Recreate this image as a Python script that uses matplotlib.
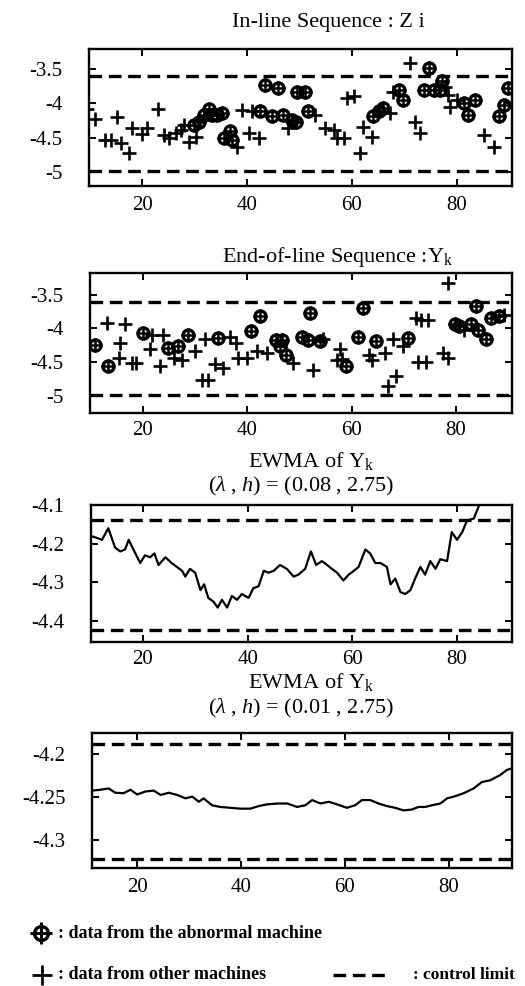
import matplotlib
matplotlib.use("Agg")
import matplotlib.pyplot as plt

plt.rcParams['font.family'] = ['Liberation Serif', 'DejaVu Serif']
plt.rcParams['mathtext.fontset'] = 'custom'
plt.rcParams['mathtext.rm'] = 'Liberation Serif'
plt.rcParams['mathtext.it'] = 'Liberation Serif:italic'

# ── In-line sequence Z_i ──
z_other_x = [9.6, 11, 13, 14, 15.2, 16, 17.5, 18, 20, 21, 23, 24.2, 25.2, 26.4, 27.4, 28, 29,
             30.2, 38.1, 39, 40.3, 41, 42.2, 47.9, 53, 54.9, 56.5, 57.1, 58.4, 59, 60.3, 61.6,
             62.2, 63.8, 67.3, 67.9, 71.1, 72.1, 73, 77.7, 78.4, 78.7, 80, 85.1, 87]
z_other_y = [-4.08, -4.23, -4.54, -4.54, -4.20, -4.58, -4.73, -4.36, -4.45, -4.36, -4.08, -4.46,
             -4.51, -4.44, -4.39, -4.32, -4.56, -4.49, -4.63, -4.10, -4.44, -4.12, -4.51, -4.36,
             -4.17, -4.36, -4.39, -4.51, -4.51, -3.92, -3.90, -4.73, -4.34, -4.49, -4.14, -3.83,
             -3.41, -4.27, -4.44, -3.77, -3.88, -4.05, -3.95, -4.46, -4.63]
z_abn_x = [29.9, 30.9, 31.8, 32.7, 33.4, 34.3, 35.3, 35.6, 36.8, 37.2, 42.5, 43.5, 44.7, 46,
           46.9, 48.5, 49.3, 49.5, 51.1, 51.7, 64.1, 65.1, 66, 68.9, 69.8, 73.7, 74.6, 75.6,
           76.8, 77.2, 81.3, 82.2, 83.5, 88, 88.9, 89.8]
z_abn_y = [-4.32, -4.27, -4.17, -4.09, -4.17, -4.17, -4.14, -4.51, -4.41, -4.53, -4.12, -3.73,
           -4.19, -3.78, -4.17, -4.24, -4.28, -3.83, -3.83, -4.12, -4.19, -4.12, -4.07, -3.80,
           -3.95, -3.80, -3.49, -3.80, -3.80, -3.68, -4.00, -4.17, -3.95, -4.19, -4.02, -3.78]

# ── End-of-line sequence Y_k ──
y_other_x = [13.1, 15.4, 15.7, 16.6, 17.9, 18.8, 21.4, 21.7, 23.3, 23.9, 25.9, 27.5, 30, 31.3,
             31.9, 32.5, 33.8, 35.4, 36.7, 37.9, 38.3, 39.9, 41.8, 43.7, 48.8, 52.6, 54.5, 57.1,
             57.7, 58.2, 63.4, 63.9, 66.3, 66.9, 67.9, 68.5, 69.8, 72.4, 73.3, 74.6, 72.7, 74.3,
             77.5, 78.4, 78.4, 81.6, 89.2]
y_other_y = [-3.92, -4.44, -4.21, -3.94, -4.51, -4.51, -4.31, -4.09, -4.56, -4.09, -4.44, -4.46,
             -4.34, -4.76, -4.16, -4.76, -4.53, -4.58, -4.12, -4.21, -4.44, -4.44, -4.34, -4.36,
             -4.51, -4.61, -4.16, -4.46, -4.31, -4.45, -4.39, -4.47, -4.36, -4.85, -4.16, -4.71,
             -4.26, -3.84, -3.87, -3.87, -4.49, -4.49, -4.36, -4.44, -3.33, -4.02, -3.80]
y_abn_x = [10.9, 13.4, 20.1, 24.9, 26.8, 28.7, 34.5, 40.8, 42.4, 45.6, 46.2, 46.6, 47.5, 50.4,
           51.7, 52, 53.9, 59, 61.2, 62.2, 64.7, 70.8, 79.7, 80.6, 82.8, 83.8, 84.1, 85.7,
           86.7, 88.3]
y_abn_y = [-4.24, -4.56, -4.07, -4.29, -4.26, -4.09, -4.14, -4.04, -3.82, -4.17, -4.26, -4.17,
           -4.39, -4.12, -4.17, -3.77, -4.19, -4.56, -4.12, -3.70, -4.19, -4.14, -3.94, -3.97,
           -3.94, -3.67, -4.02, -4.16, -3.84, -3.82]

# ── EWMA, lambda = 0.08 ──
ew08_x = [10.1, 11.2, 12.2, 13.4, 14.7, 15.7, 16.6, 17.3, 18.2, 19.5, 20.4, 21.4, 22.2, 23,
          24.3, 25.5, 26.5, 27.5, 28.1, 29, 30, 31, 31.7, 32.5, 33.5, 34.3, 35.1, 36.1, 37, 38,
          38.9, 40.2, 41.1, 42.1, 43.1, 44, 45, 46.2, 47.5, 48.8, 49.7, 51, 52.1, 53.1, 54.2,
          55.2, 56.1, 57.1, 58.3, 59.3, 60.3, 61.2, 62.5, 63.4, 64.4, 65.4, 66.6, 67.3, 68.2,
          69.2, 70.1, 71.1, 72, 73, 73.9, 74.9, 75.9, 76.8, 78.1, 79, 80, 81, 81.9, 83.2, 84.1]
ew08_y = [-4.180, -4.185, -4.190, -4.160, -4.210, -4.220, -4.215, -4.190, -4.215, -4.250,
          -4.230, -4.235, -4.225, -4.255, -4.235, -4.250, -4.260, -4.270, -4.285, -4.265,
          -4.275, -4.320, -4.305, -4.340, -4.350, -4.365, -4.345, -4.365, -4.335, -4.345,
          -4.330, -4.340, -4.315, -4.310, -4.270, -4.275, -4.270, -4.255, -4.265, -4.285,
          -4.280, -4.265, -4.220, -4.255, -4.245, -4.255, -4.265, -4.275, -4.295, -4.280,
          -4.270, -4.260, -4.215, -4.225, -4.250, -4.250, -4.260, -4.305, -4.290, -4.325,
          -4.330, -4.320, -4.290, -4.260, -4.280, -4.245, -4.265, -4.240, -4.245, -4.170,
          -4.190, -4.170, -4.140, -4.135, -4.105]

# ── EWMA, lambda = 0.01 ──
ew01_x = [11.3, 12.9, 14.5, 15.8, 17.4, 18.7, 20, 21.6, 23.2, 24.5, 26.1, 27.7, 29.3, 30.6,
          31.9, 32.8, 34.4, 36, 38, 39.9, 41.8, 43.4, 45, 47, 48.9, 50.8, 52.4, 53.7, 55.3,
          56.9, 58.5, 60.4, 62, 63.3, 64.9, 66.5, 68.1, 69.7, 71.3, 72.9, 74.2, 75.5, 76.8,
          78.4, 79.7, 81, 82.9, 84.8, 86.4, 88, 89.9, 91.2, 92.2]
ew01_y = [-4.2420, -4.2410, -4.2395, -4.2445, -4.2450, -4.2410, -4.2465, -4.2430, -4.2420,
          -4.2470, -4.2445, -4.2470, -4.2510, -4.2490, -4.2550, -4.2510, -4.2590, -4.2610,
          -4.2620, -4.2630, -4.2630, -4.2600, -4.2580, -4.2570, -4.2570, -4.2610, -4.2590,
          -4.2530, -4.2570, -4.2550, -4.2580, -4.2620, -4.2590, -4.2530, -4.2530, -4.2570,
          -4.2600, -4.2620, -4.2650, -4.2640, -4.2610, -4.2610, -4.2590, -4.2570, -4.2510,
          -4.2490, -4.2450, -4.2395, -4.2320, -4.2300, -4.2240, -4.2180, -4.2160]

ucl_z, lcl_z = -3.61, -4.99
ucl_08, lcl_08 = -4.138, -4.424
ucl_01, lcl_01 = -4.188, -4.322

x_ticks = [20, 40, 60, 80]
yt_seq = [-3.5, -4, -4.5, -5]
yt_seq_lab = ['-3.5', '-4', '-4.5', '-5']
yt_08 = [-4.1, -4.2, -4.3, -4.4]
yt_08_lab = ['-4.1', '-4.2', '-4.3', '-4.4']
yt_01 = [-4.2, -4.25, -4.3]
yt_01_lab = ['-4.2', '-4.25', '-4.3']

W, H = 525, 986
DASH = (0, (3.8, 2.0))

fig = plt.figure(figsize=(W / 100, H / 100), dpi=100)


def px_axes(x0, y0, x1, y1):
    return fig.add_axes([x0 / W, 1 - y1 / H, (x1 - x0) / W, (y1 - y0) / H])


def style(ax, xlim, ylim, yt, ytl, xpad=7):
    ax.set_xlim(*xlim)
    ax.set_ylim(*ylim)
    ax.set_xticks(x_ticks)
    ax.set_xticklabels([str(t) for t in x_ticks])
    ax.set_yticks(yt)
    ax.set_yticklabels(ytl)
    ax.tick_params(direction='in', top=True, right=True, length=5, width=1.4,
                   labelsize=15)
    ax.tick_params(axis='y', pad=19)
    ax.tick_params(axis='x', pad=xpad)
    for s in ax.spines.values():
        s.set_linewidth(1.7)


def limits(ax, u, l):
    ax.axhline(u, color='k', lw=2.4, ls=DASH)
    ax.axhline(l, color='k', lw=2.4, ls=DASH)


def seq_panel(ax, ox, oy, ax_, ay):
    ax.plot(ox, oy, '+', color='k', ms=10, mew=1.9, ls='none')
    ax.plot(ax_, ay, 'o', mfc='none', mec='k', ms=8, mew=2.4, ls='none')
    ax.plot(ax_, ay, '+', color='k', ms=10.5, mew=1.8, ls='none')


# panel 1
ax1 = px_axes(89, 49, 512, 186)
seq_panel(ax1, z_other_x, z_other_y, z_abn_x, z_abn_y)
limits(ax1, ucl_z, lcl_z)
style(ax1, (9.9, 90.5), (-5.205, -3.21), yt_seq, yt_seq_lab)

# panel 2
ax2 = px_axes(90, 273, 512, 413)
seq_panel(ax2, y_other_x, y_other_y, y_abn_x, y_abn_y)
limits(ax2, ucl_z, lcl_z)
style(ax2, (9.9, 90.7), (-5.25, -3.18), yt_seq, yt_seq_lab, xpad=6)

# panel 3
ax3 = px_axes(91, 505, 512, 642)
ax3.plot(ew08_x, ew08_y, color='k', lw=1.6)
limits(ax3, ucl_08, lcl_08)
style(ax3, (10.1, 90.5), (-4.454, -4.103), yt_08, yt_08_lab, xpad=6)

# panel 4
ax4 = px_axes(92, 733, 512, 868)
ax4.plot(ew01_x, ew01_y, color='k', lw=1.6)
limits(ax4, ucl_01, lcl_01)
style(ax4, (11.3, 92.2), (-4.332, -4.175), yt_01, yt_01_lab)


def ftext(x, y, s, **kw):
    fig.text(x / W, 1 - y / H, s, **kw)


ftext(328, 27, 'In-line Sequence : Z i', ha='center', va='baseline', fontsize=16)
ftext(338, 262, r'End-of-line Sequence :Y$_{\mathrm{k}}$', ha='center', va='baseline', fontsize=16)
ftext(311, 467, r'EWMA of Y$_{\mathrm{k}}$', ha='center', va='baseline', fontsize=16)
ftext(301, 491, r'($\lambda$ , $h$) = (0.08 , 2.75)', ha='center', va='baseline', fontsize=16)
ftext(311, 688, r'EWMA of Y$_{\mathrm{k}}$', ha='center', va='baseline', fontsize=16)
ftext(301, 713, r'($\lambda$ , $h$) = (0.01 , 2.75)', ha='center', va='baseline', fontsize=16)

# legend
lg = fig.add_axes([0, 0, 1, 1])
lg.set_xlim(0, W)
lg.set_ylim(H, 0)
lg.axis('off')
lg.plot([41], [933], 'o', mfc='none', mec='k', ms=10, mew=2.4)
lg.plot([41], [933], '+', color='k', ms=16, mew=2.2)
lg.plot([42], [975], '+', color='k', ms=14, mew=2.0)
lg.plot([333, 390], [975, 975], color='k', lw=2.4, ls=DASH)
lg.text(58, 938, ': data from the abnormal machine', fontsize=13, fontweight='bold', va='baseline')
lg.text(58, 979, ': data from other machines', fontsize=13, fontweight='bold', va='baseline')
lg.text(413, 979, ': control limit', fontsize=12.5, fontweight='bold', va='baseline')

fig.savefig('out.png', dpi=100)
